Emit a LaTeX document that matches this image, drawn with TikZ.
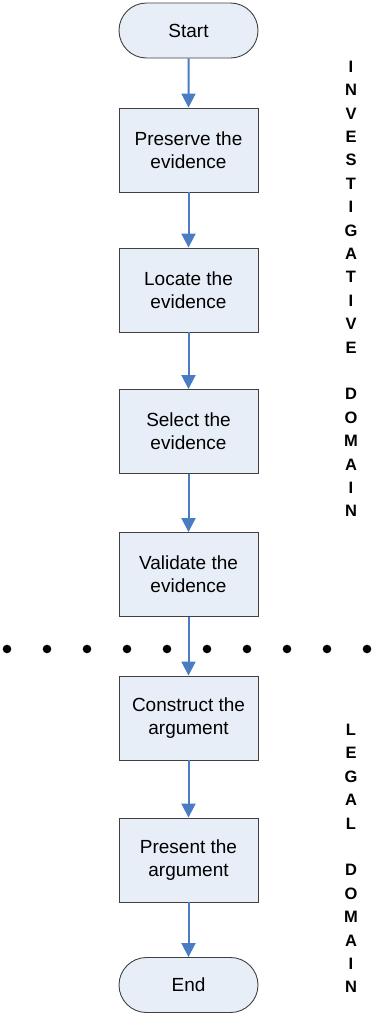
\documentclass[tikz,border=0pt]{standalone}
\usepackage{fontspec}
\setmainfont{Liberation Sans}
\usetikzlibrary{arrows.meta,shapes.misc}

\definecolor{boxfill}{HTML}{E8EEF8}
\definecolor{boxline}{HTML}{404040}
\definecolor{flowblue}{HTML}{4A7CC4}

\begin{document}
\begin{tikzpicture}[x=1pt,y=-1pt,
    stepbox/.style={draw=boxline,fill=boxfill,line width=0.9pt,minimum width=139pt,minimum height=84pt,
      align=center,inner sep=0pt,font=\fontsize{19}{23}\selectfont},
    terminal/.style={stepbox,rounded rectangle,minimum height=55pt},
    flow/.style={draw=flowblue,line width=2pt,-{Triangle[length=14pt,width=14pt]}},
    domainlabel/.style={align=center,inner sep=0pt,font=\fontsize{16.5}{23.4}\selectfont\bfseries}]

    \useasboundingbox (0,0) rectangle (374,1015);

    % flow chart
    \node[terminal] (start) at (188.5,30.5) {Start};
    \node[stepbox] (preserve) at (188.5,150) {Preserve the\\evidence};
    \node[stepbox] (locate) at (188.5,290) {Locate the\\evidence};
    \node[stepbox] (select) at (188.5,431.5) {Select the\\evidence};
    \node[stepbox] (validate) at (188.5,574.5) {Validate the\\evidence};
    \node[stepbox] (construct) at (188.5,718) {Construct the\\argument};
    \node[stepbox] (present) at (188.5,860) {Present the\\argument};
    \node[terminal] (stop) at (188.5,985) {End};

    \foreach \a/\b in {start/preserve,preserve/locate,locate/select,select/validate,
      validate/construct,construct/present,present/stop}
      \draw[flow] (\a) -- (\b);

    % border between the domains
    \foreach \x in {0,...,9} \fill (7+40*\x,649) circle (4.3pt);

    % domain labels
    \node[domainlabel] (investigative) at (351,289) {I\\N\\V\\E\\S\\T\\I\\G\\A\\T\\I\\V\\E\\~\\D\\O\\M\\A\\I\\N};
    \node[domainlabel] (legal) at (351,858.5) {L\\E\\G\\A\\L\\~\\D\\O\\M\\A\\I\\N};

\end{tikzpicture}
\end{document}
